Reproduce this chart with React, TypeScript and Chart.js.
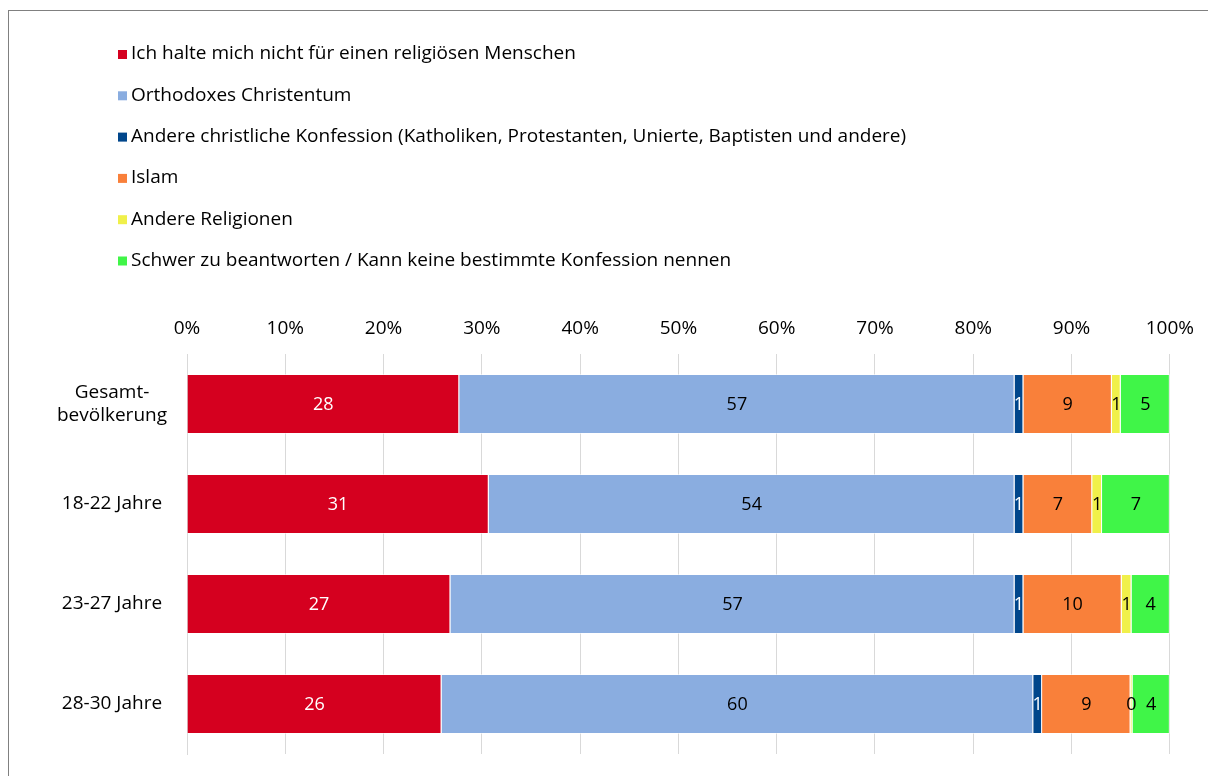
import React, { useEffect, useRef } from "react";
import { Chart, registerables } from "chart.js";

Chart.register(...registerables);

const categories: (string | string[])[] = [["Gesamt-", "bevölkerung"], "18-22 Jahre", "23-27 Jahre", "28-30 Jahre"];
const seriesNames = [
  "Ich halte mich nicht für einen religiösen Menschen",
  "Orthodoxes Christentum",
  "Andere christliche Konfession (Katholiken, Protestanten, Unierte, Baptisten und andere)",
  "Islam",
  "Andere Religionen",
  "Schwer zu beantworten / Kann keine bestimmte Konfession nennen",
];
const nonReligious = [27.7, 30.7, 26.8, 25.9];
const orthodox = [56.5, 53.5, 57.4, 60.2];
const otherChristian = [0.9, 0.9, 0.9, 0.9];
const islam = [9.0, 7.0, 10.0, 9.0];
const otherReligions = [0.9, 1.0, 1.0, 0.2];
const hardToSay = [5.0, 6.9, 3.9, 3.8];
const xTicks = ["0%", "10%", "20%", "30%", "40%", "50%", "60%", "70%", "80%", "90%", "100%"];

const colors = ["#D5001F", "#8AADE0", "#00468B", "#F9803A", "#F0F04A", "#40F548"];
const labelColors = ["#ffffff", "#000000", "#ffffff", "#000000", "#000000", "#000000"];
const FONT = "'Open Sans', sans-serif";

const legendPlugin = {
  id: "customLegend",
  afterDraw(chart: any) {
    const ctx = chart.ctx;
    ctx.save();
    ctx.font = `19px ${FONT}`;
    ctx.textBaseline = "middle";
    ctx.textAlign = "left";
    chart.data.datasets.forEach((ds: any, i: number) => {
      const y = 54 + i * 41.3;
      ctx.fillStyle = ds.backgroundColor;
      ctx.fillRect(118, y - 4, 9, 9);
      ctx.fillStyle = "#000";
      ctx.fillText(ds.label, 131, y);
    });
    ctx.restore();
  },
};

const dataLabelPlugin = {
  id: "dataLabels",
  afterDatasetsDraw(chart: any) {
    const ctx = chart.ctx;
    ctx.save();
    ctx.font = `18px ${FONT}`;
    ctx.textAlign = "center";
    ctx.textBaseline = "middle";
    chart.data.datasets.forEach((ds: any, di: number) => {
      const meta = chart.getDatasetMeta(di);
      meta.data.forEach((el: any, i: number) => {
        const v = ds.data[i];
        const p = el.getCenterPoint();
        ctx.fillStyle = labelColors[di];
        ctx.fillText(String(Math.round(v)), p.x, p.y + 1);
      });
    });
    ctx.restore();
  },
};

export default function App() {
  const ref = useRef<HTMLCanvasElement>(null);
  useEffect(() => {
    if (!ref.current) return;
    const series = [nonReligious, orthodox, otherChristian, islam, otherReligions, hardToSay];
    const chart = new Chart(ref.current, {
      type: "bar",
      data: {
        labels: categories,
        datasets: series.map((d, i) => ({
          label: seriesNames[i],
          data: d,
          backgroundColor: colors[i],
          borderColor: "rgba(255,255,255,0.55)",
          borderWidth: 1,
          barPercentage: 0.6,
          categoryPercentage: 1,
        })),
      },
      options: {
        indexAxis: "y",
        animation: false,
        responsive: false,
        layout: { padding: { top: 300, left: 55, right: 38, bottom: 22 } },
        plugins: { legend: { display: false }, tooltip: { enabled: false } },
        scales: {
          x: {
            position: "top",
            stacked: true,
            min: 0,
            max: 100,
            afterFit: (s: any) => { s.height = 54; },
            grid: { color: "#D9D9D9", drawTicks: false },
            border: { display: false },
            ticks: {
              stepSize: 10,
              padding: 14,
              color: "#000",
              font: { family: FONT, size: 19 },
              callback: (_v: any, i: number) => xTicks[i],
            },
          },
          y: {
            stacked: true,
            afterFit: (s: any) => { s.width = 132; s.paddingTop = 0; s.paddingBottom = 0; },
            grid: { display: false, drawTicks: false },
            border: { display: true, color: "#D9D9D9" },
            ticks: {
              crossAlign: "center",
              padding: 20,
              color: "#000",
              font: { family: FONT, size: 19 },
            },
          },
        },
      },
      plugins: [legendPlugin, dataLabelPlugin],
    });
    return () => chart.destroy();
  }, []);
  return (
    <div style={{ position: "fixed", left: 0, top: 0, width: 1208, height: 776, overflow: "hidden", background: "#fff" }}>
      <div style={{ position: "absolute", left: 8, top: 10, width: 1400, height: 1000, border: "1.5px solid #808080" }} />
      <canvas ref={ref} width={1208} height={776} style={{ position: "absolute", left: 0, top: 0 }} />
    </div>
  );
}
